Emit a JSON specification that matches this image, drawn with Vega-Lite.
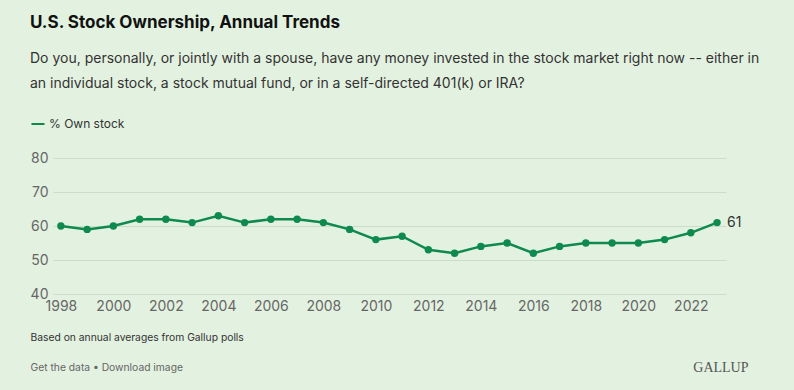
{
  "$schema": "https://vega.github.io/schema/vega-lite/v6.json",
  "width": 673,
  "height": 136,
  "autosize": {"type": "none"},
  "padding": {"left": 53, "top": 158, "right": 68, "bottom": 96},
  "background": "#e3f1e0",
  "config": {
    "view": {"stroke": null},
    "font": "Inter",
    "axis": {"labelFont": "Inter", "titleFont": "Inter"}
  },
  "title": {
    "text": "U.S. Stock Ownership, Annual Trends",
    "subtitle": ["Do you, personally, or jointly with a spouse, have any money invested in the stock market right now -- either in", "an individual stock, a stock mutual fund, or in a self-directed 401(k) or IRA?"],
    "anchor": "start",
    "frame": "group",
    "dx": -23,
    "offset": 24,
    "font": "Inter",
    "fontSize": 17,
    "fontWeight": "bold",
    "color": "#111111",
    "subtitleFont": "Inter",
    "subtitleFontSize": 14,
    "subtitleColor": "#333333",
    "subtitleLineHeight": 25,
    "subtitlePadding": 20
  },
  "data": {
    "values": [
      {"year": 1998, "pct": 60, "series": "% Own stock"},
      {"year": 1999, "pct": 59, "series": "% Own stock"},
      {"year": 2000, "pct": 60, "series": "% Own stock"},
      {"year": 2001, "pct": 62, "series": "% Own stock"},
      {"year": 2002, "pct": 62, "series": "% Own stock"},
      {"year": 2003, "pct": 61, "series": "% Own stock"},
      {"year": 2004, "pct": 63, "series": "% Own stock"},
      {"year": 2005, "pct": 61, "series": "% Own stock"},
      {"year": 2006, "pct": 62, "series": "% Own stock"},
      {"year": 2007, "pct": 62, "series": "% Own stock"},
      {"year": 2008, "pct": 61, "series": "% Own stock"},
      {"year": 2009, "pct": 59, "series": "% Own stock"},
      {"year": 2010, "pct": 56, "series": "% Own stock"},
      {"year": 2011, "pct": 57, "series": "% Own stock"},
      {"year": 2012, "pct": 53, "series": "% Own stock"},
      {"year": 2013, "pct": 52, "series": "% Own stock"},
      {"year": 2014, "pct": 54, "series": "% Own stock"},
      {"year": 2015, "pct": 55, "series": "% Own stock"},
      {"year": 2016, "pct": 52, "series": "% Own stock"},
      {"year": 2017, "pct": 54, "series": "% Own stock"},
      {"year": 2018, "pct": 55, "series": "% Own stock"},
      {"year": 2019, "pct": 55, "series": "% Own stock"},
      {"year": 2020, "pct": 55, "series": "% Own stock"},
      {"year": 2021, "pct": 56, "series": "% Own stock"},
      {"year": 2022, "pct": 58, "series": "% Own stock"},
      {"year": 2023, "pct": 61, "series": "% Own stock"}
    ]
  },
  "encoding": {
    "x": {
      "field": "year",
      "type": "quantitative",
      "scale": {"domain": [1997.7, 2023.34], "nice": false, "zero": false},
      "axis": {
        "values": [1998, 2000, 2002, 2004, 2006, 2008, 2010, 2012, 2014, 2016, 2018, 2020, 2022],
        "format": "d",
        "grid": false,
        "domain": false,
        "ticks": false,
        "labelPadding": 5,
        "labelFontSize": 14,
        "labelColor": "#666666",
        "title": "Based on annual averages from Gallup polls",
        "titleFontSize": 10.3,
        "titleFontWeight": "normal",
        "titleColor": "#333333",
        "titleX": -23,
        "titleY": 43,
        "titleAlign": "left",
        "titleBaseline": "middle",
        "titleAngle": 0
      }
    }
  },
  "layer": [
    {
      "mark": {"type": "line", "strokeWidth": 2.5, "point": {"size": 55, "filled": true, "opacity": 1}},
      "encoding": {
        "y": {
          "field": "pct",
          "type": "quantitative",
          "scale": {"domain": [40, 80], "nice": false, "zero": false},
          "axis": {
            "values": [40, 50, 60, 70, 80],
            "grid": true,
            "gridColor": "#cbdccb",
            "gridWidth": 1,
            "domain": false,
            "ticks": false,
            "labelPadding": 5,
            "labelFontSize": 14,
            "labelColor": "#666666",
            "title": "Get the data • Download image",
            "titleFontSize": 10.3,
            "titleFontWeight": "normal",
            "titleColor": "#666666",
            "titleAngle": 0,
            "titleX": -23,
            "titleY": 209,
            "titleAlign": "left",
            "titleBaseline": "middle"
          }
        },
        "color": {
          "field": "series",
          "type": "nominal",
          "scale": {"range": ["#0f8a4f"]},
          "legend": {
            "title": null,
            "orient": "none",
            "legendX": -23,
            "legendY": -42,
            "symbolType": "stroke",
            "symbolSize": 170,
            "symbolStrokeWidth": 2,
            "labelFontSize": 12,
            "labelColor": "#333333",
            "labelFont": "Inter",
            "labelOffset": 3
          }
        }
      }
    },
    {
      "transform": [{"filter": "datum.year == 2023"}],
      "mark": {"type": "text", "align": "left", "baseline": "middle", "dx": 10, "fontSize": 14, "color": "#333333"},
      "encoding": {
        "y": {
          "field": "pct",
          "type": "quantitative",
          "scale": {"domain": [40, 80], "nice": false, "zero": false},
          "axis": {
            "orient": "right",
            "labels": false,
            "grid": false,
            "domain": false,
            "ticks": false,
            "title": "GALLUP",
            "titleFont": "Liberation Serif",
            "titleFontSize": 14,
            "titleFontWeight": "normal",
            "titleColor": "#555555",
            "titleAngle": 0,
            "titleX": 22,
            "titleY": 209,
            "titleAlign": "right",
            "titleBaseline": "middle"
          }
        },
        "text": {"field": "pct", "type": "quantitative"}
      }
    }
  ],
  "resolve": {"scale": {"y": "independent"}, "axis": {"y": "independent"}}
}
